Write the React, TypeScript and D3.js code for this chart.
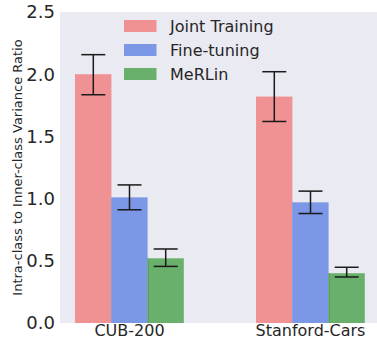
import React from 'react'
import * as d3 from 'd3'

const datasets = ['CUB-200', 'Stanford-Cars']
const methods = ['Joint Training', 'Fine-tuning', 'MeRLin']
const colors = ['#F09293', '#7B97E6', '#69B06C']
const edgeColors = ['#F09293', '#7B97E6', '#4F9A55']
// values[method][dataset]
const values = [
  [2.0, 1.82],
  [1.01, 0.97],
  [0.52, 0.4],
]
const errLow = [
  [1.835, 1.62],
  [0.91, 0.88],
  [0.455, 0.37],
]
const errHigh = [
  [2.157, 2.02],
  [1.11, 1.06],
  [0.595, 0.448],
]
const yTicks = [0.0, 0.5, 1.0, 1.5, 2.0, 2.5]

const W = 377
const H = 339
const plotLeft = 60
const plotRight = 377
const plotTop = 12
const plotBottom = 323

export default function App() {
  const x = d3.scaleLinear().domain([0, 1]).range([129.5, 310.5])
  const y = d3.scaleLinear().domain([0, 2.5]).range([plotBottom, plotTop])
  const barW = x(0.2) - x(0)
  const capW = 24
  const font = 'DejaVu Sans, sans-serif'
  const txt = '#262626'

  return (
    <svg width={W} height={H} style={{ position: 'absolute', left: 0, top: 0 }} fontFamily={font}>
      <rect x={plotLeft} y={plotTop} width={plotRight - plotLeft} height={plotBottom - plotTop} fill="#EAEAF2" />
      {methods.map((m, mi) =>
        datasets.map((ds, di) => {
          const cx = x(di + (mi - 1) * 0.2)
          return (
            <g key={m + ds}>
              <rect
                x={cx - barW / 2}
                y={y(values[mi][di])}
                width={barW}
                height={y(0) - y(values[mi][di])}
                fill={colors[mi]}
              />
              <line x1={cx - barW / 2 + 0.5} x2={cx - barW / 2 + 0.5} y1={y(values[mi][di])} y2={y(0)} stroke={edgeColors[mi]} strokeWidth={1} />
            </g>
          )
        })
      )}
      {methods.map((m, mi) =>
        datasets.map((ds, di) => {
          const cx = x(di + (mi - 1) * 0.2)
          return (
            <g key={'e' + m + ds} stroke="#1a1a1a" strokeWidth={1.5}>
              <line x1={cx} x2={cx} y1={y(errLow[mi][di])} y2={y(errHigh[mi][di])} />
              <line x1={cx - capW / 2} x2={cx + capW / 2} y1={y(errLow[mi][di])} y2={y(errLow[mi][di])} />
              <line x1={cx - capW / 2} x2={cx + capW / 2} y1={y(errHigh[mi][di])} y2={y(errHigh[mi][di])} />
            </g>
          )
        })
      )}
      {yTicks.map(t => (
        <text key={t} x={55} y={y(t)} dy="0.36em" textAnchor="end" fontSize={18} fill={txt}>
          {t.toFixed(1)}
        </text>
      ))}
      {datasets.map((ds, di) => (
        <text key={ds} x={x(di)} y={336} textAnchor="middle" fontSize={16} fill={txt}>
          {ds}
        </text>
      ))}
      <text
        transform={`translate(17,${(plotTop + plotBottom) / 2}) rotate(-90)`}
        textAnchor="middle"
        dy="0.36em"
        fontSize={13}
        fill={txt}
      >
        Intra-class to Inner-class Variance Ratio
      </text>
      {methods.map((m, mi) => (
        <g key={'l' + m}>
          <rect x={124} y={20 + mi * 24} width={32.5} height={12} fill={colors[mi]} />
          <text x={170} y={26 + mi * 24} dy="0.36em" fontSize={16} fill={txt}>
            {m}
          </text>
        </g>
      ))}
    </svg>
  )
}
